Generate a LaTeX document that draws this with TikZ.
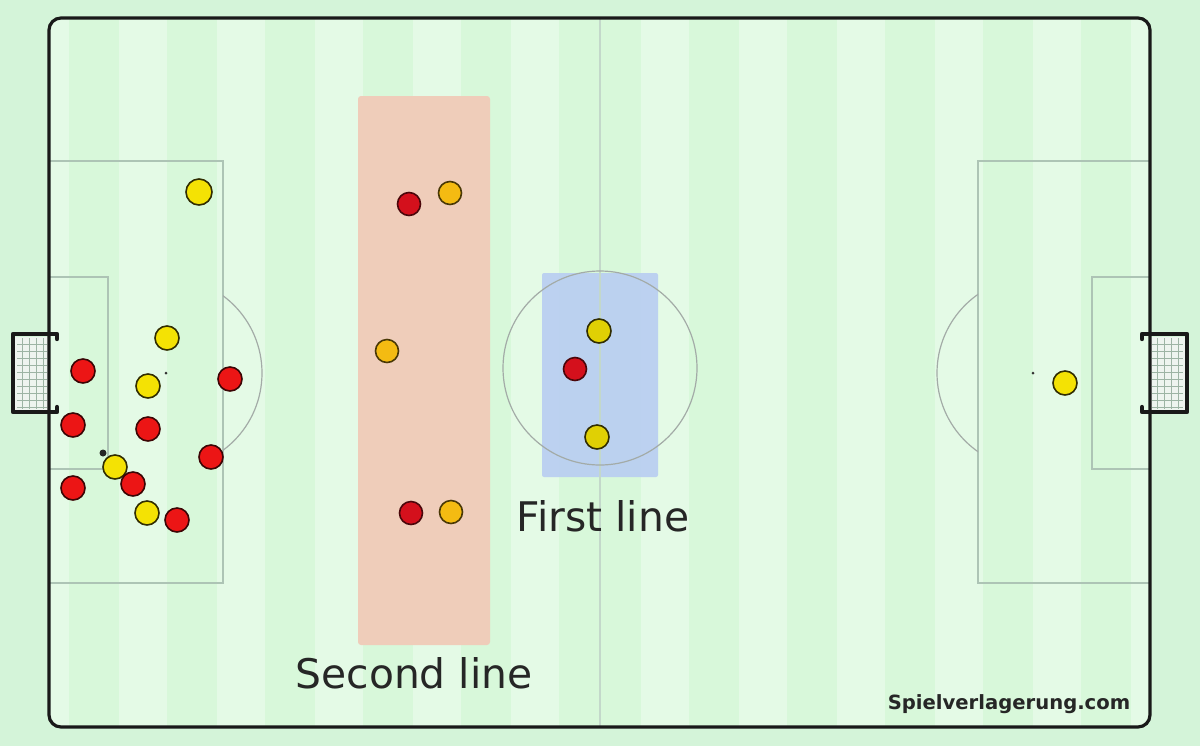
\documentclass[tikz,border=0pt]{standalone}
\usepackage{fontspec}
\setmainfont{DejaVu Sans}
\newfontfamily\wmfont{DejaVu Sans}
\definecolor{bgout}{HTML}{D4F4D9}
\definecolor{stripeA}{HTML}{D8F8DA}
\definecolor{stripeB}{HTML}{E4FAE6}
\definecolor{markc}{HTML}{ADC4B5}
\definecolor{circc}{HTML}{A3ABA7}
\definecolor{halfc}{HTML}{C3D8CA}
\definecolor{salmonc}{HTML}{EFCDBA}
\definecolor{bluec}{HTML}{B8CDF2}
\definecolor{redc}{HTML}{EC1515}
\definecolor{redd}{HTML}{D4101C}
\definecolor{yelc}{HTML}{F4E204}
\definecolor{ambc}{HTML}{F4BB12}
\definecolor{textc}{HTML}{262626}
\definecolor{netc}{HTML}{EEF4EF}
\definecolor{netl}{HTML}{9DB4A4}
\tikzset{
  player/.style={circle, minimum size=12pt, inner sep=0pt, line width=0.8pt},
  redp/.style={player, fill=redc, draw=black!75!redc},
  redq/.style={player, fill=redd, draw=black!65!redd, minimum size=11.5pt},
  yelp/.style={player, fill=yelc, draw=black!80!yelc},
  ambp/.style={player, fill=ambc, draw=black!70!ambc, minimum size=11.5pt},
  pitchline/.style={draw=markc, line width=0.9pt},
  goalframe/.style={line width=2.2pt, draw=black!90, line cap=round, line join=round},
  lbl/.style={font=\fontsize{20.4}{24}\selectfont, text=textc, inner sep=0pt, anchor=base}
}
\begin{document}
\begin{tikzpicture}[x=0.5pt,y=-0.5pt]
\useasboundingbox (0,0) rectangle (1200,746);
\fill[bgout] (0,0) rectangle (1200,746);
% pitch with stripes
\begin{scope}
  \clip[rounded corners=6pt] (49,18) rectangle (1150,727);
  \fill[stripeA] (49,18) rectangle (1150,727);
  \foreach \c in {65,163,261,359,457,555} {
    \fill[stripeB] ({600+\c-24},18) rectangle ({600+\c+24},727);
    \fill[stripeB] ({600-\c-24},18) rectangle ({600-\c+24},727);
  }
\end{scope}
% zones
\fill[salmonc, rounded corners=1.5pt] (358,96) rectangle (490,645);
\fill[bluec, fill opacity=0.9, rounded corners=1pt] (542,273) rectangle (658,477);
% markings
\draw[halfc, line width=0.6pt] (600,18) -- (600,727);
\draw[circc, line width=0.6pt] (600,368) circle[radius=97];
\draw[pitchline] (49,161) -- (223,161) -- (223,583) -- (49,583);
\draw[pitchline] (49,277) -- (108,277) -- (108,469) -- (49,469);
\draw[pitchline] (1150,161) -- (978,161) -- (978,583) -- (1150,583);
\draw[pitchline] (1150,277) -- (1092,277) -- (1092,469) -- (1150,469);
\begin{scope}
  \clip (223,0) rectangle (400,746);
  \draw[circc, line width=0.6pt] (166,373) circle[radius=96];
\end{scope}
\begin{scope}
  \clip (800,0) rectangle (978,746);
  \draw[circc, line width=0.6pt] (1033,373) circle[radius=96];
\end{scope}
\fill[black!80] (166,373) circle[radius=1.5];
\fill[black!80] (1033,373) circle[radius=1.5];
% goals
\fill[netc] (15,337) rectangle (48,410);
\foreach \y in {344,351,...,407} \draw[netl, line width=0.4pt] (17,\y) -- (47,\y);
\foreach \x in {22,29,36,43} \draw[netl, line width=0.4pt] (\x,338) -- (\x,409);
\draw[goalframe] (57,339) -- (57,334) -- (13,334) -- (13,412) -- (57,412) -- (57,407);
\fill[netc] (1151,337) rectangle (1185,410);
\foreach \y in {344,351,...,407} \draw[netl, line width=0.4pt] (1152,\y) -- (1183,\y);
\foreach \x in {1157,1164,1171,1178} \draw[netl, line width=0.4pt] (\x,338) -- (\x,409);
\draw[goalframe] (1142,339) -- (1142,334) -- (1187,334) -- (1187,412) -- (1142,412) -- (1142,407);
% pitch outline
\draw[line width=1.6pt, black!90, rounded corners=6pt] (49,18) rectangle (1150,727);
% left side players
\node[yelp, minimum size=13pt] (yl1) at (199,192) {};
\node[yelp] (yl2) at (167,338) {};
\node[yelp] (yl3) at (148,386) {};
\node[yelp] (yl4) at (115,467) {};
\node[yelp] (yl5) at (147,513) {};
\node[redp] (rl1) at (83,371) {};
\node[redp] (rl2) at (73,425) {};
\node[redp] (rl3) at (148,429) {};
\node[redp] (rl4) at (230,379) {};
\node[redp] (rl5) at (211,457) {};
\node[redp] (rl6) at (133,484) {};
\node[redp] (rl7) at (73,488) {};
\node[redp] (rl8) at (177,520) {};
\node[circle, fill=black!85, minimum size=3.5pt, inner sep=0pt] (ball) at (103,453) {};
% second line
\node[redq] (rs1) at (409,204) {};
\node[ambp] (ys1) at (450,193) {};
\node[ambp] (ys2) at (387,351) {};
\node[redq] (rs2) at (411,513) {};
\node[ambp] (ys3) at (451,512) {};
% first line
\node[yelp, fill=yelc!92!black] (yf1) at (599,331) {};
\node[redq] (rf1) at (575,369) {};
\node[yelp, fill=yelc!92!black] (yf2) at (597,437) {};
% right keeper
\node[yelp] (yr) at (1065,383) {};
% labels
\node[lbl] (first) at (603,531) {First line};
\node[lbl] (second) at (414,688) {Second line};
\node[font=\wmfont\bfseries\fontsize{9.8}{12}\selectfont, text=black!85, inner sep=0pt, anchor=base] (wm) at (1009,709) {Spielverlagerung.com};
\end{tikzpicture}
\end{document}
